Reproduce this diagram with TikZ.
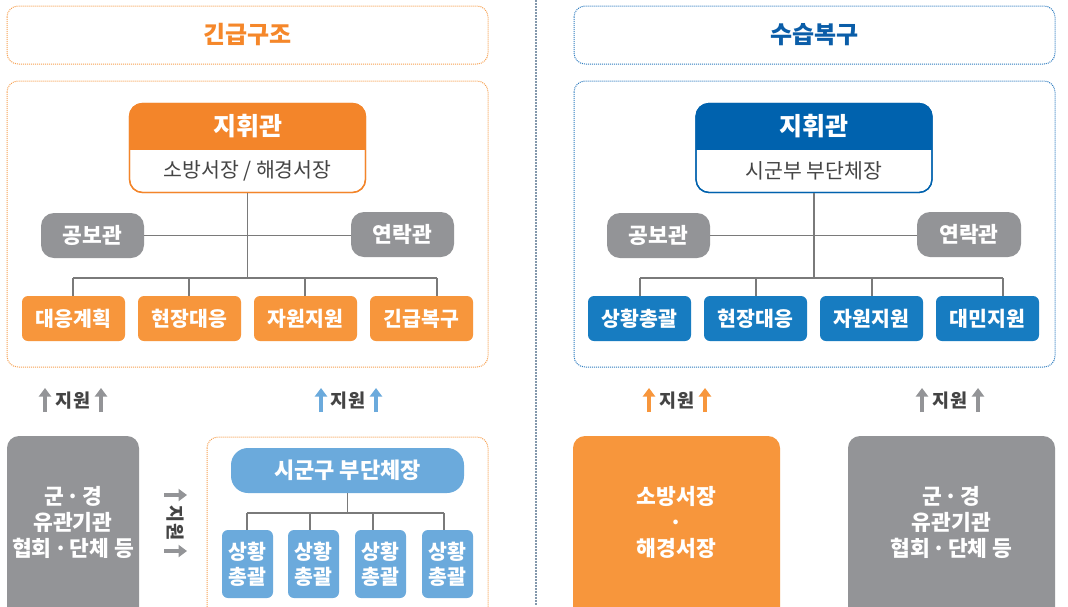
\documentclass[tikz,border=0pt]{standalone}
\usepackage{fontspec}
\setmainfont{Noto Sans CJK KR}
\usetikzlibrary{arrows.meta}
\definecolor{orT}{HTML}{F5872A}
\definecolor{orH}{HTML}{F3852A}
\definecolor{orB}{HTML}{F7963C}
\definecolor{orD}{HTML}{F7A050}
\definecolor{blT}{HTML}{0A5DA8}
\definecolor{blH}{HTML}{0062AE}
\definecolor{blB}{HTML}{177CC1}
\definecolor{blL}{HTML}{6BAADC}
\definecolor{blD}{HTML}{2E7CC0}
\definecolor{grB}{HTML}{939497}
\definecolor{lnC}{HTML}{7A7A7A}
\definecolor{txD}{HTML}{444444}
\definecolor{dvC}{HTML}{8398AC}
\newcommand{\mdot}{\kern2.5pt·\kern2.5pt}
\tikzset{
  dotbox/.style={line width=1pt, dash pattern=on 1pt off 1pt, rounded corners=11pt},
  sidebox/.style={fill=grB, rounded corners=13pt, minimum width=103pt, minimum height=45pt, text=white, font=\fontsize{21.5}{24}\selectfont\bfseries, inner sep=0pt},
  rowbox/.style={rounded corners=6pt, minimum width=103pt, minimum height=45pt, text=white, font=\fontsize{20.5}{24}\selectfont\bfseries, inner sep=0pt},
  smallbox/.style={fill=blL, rounded corners=6pt, minimum width=51pt, minimum height=68pt, text=white, align=center, font=\fontsize{20.5}{25}\selectfont\bfseries, inner sep=0pt},
  bigbox/.style={rounded corners=12pt, minimum width=#1, minimum height=184pt, inner sep=0pt},
  conn/.style={draw=lnC, line width=1.1pt},
  suparrow/.style={line width=4.6pt, -{Triangle[width=12pt,length=8.5pt]}},
  suplabel/.style={text=txD, font=\fontsize{18.5}{20}\selectfont\bfseries, inner sep=0pt},
  bigtext/.style={text=white, align=center, font=\fontsize{21.5}{26}\selectfont\bfseries, inner sep=0pt},
  titletext/.style={font=\fontsize{24}{28}\selectfont\bfseries},
  headtext/.style={text=white, font=\fontsize{25}{28}\selectfont\bfseries},
  subtext/.style={text=txD, font=\fontsize{20.5}{24}\selectfont},
}
\begin{document}
\begin{tikzpicture}[x=1pt,y=-1pt]
\useasboundingbox (0,0) rectangle (1068,606);
\clip (0,0) rectangle (1068,606);
\fill[white] (0,0) rectangle (1068,606);

% divider
\coordinate (dvT) at (536,0);
\coordinate (dvB) at (536,606);
\draw[dvC, line width=1.6pt, dash pattern=on 1.5pt off 1.5pt] (dvT) -- (dvB);

% ================= LEFT: 긴급구조 =================
\draw[orD, dotbox] (7,6) rectangle (488,64);
\node[titletext, text=orT] (titleL) at (247.5,35) {긴급구조};
\draw[orD, dotbox] (7,81) rectangle (488,367);

% command box
\node[draw=orH, line width=1.3pt, fill=white, rounded corners=13pt, minimum width=236pt, minimum height=89pt, inner sep=0pt] (cmdL) at (247.5,148) {};
\begin{scope}
\clip (129,103) rectangle (366,149);
\fill[orH, rounded corners=13pt] (129.5,103.5) rectangle (365.5,192.5);
\end{scope}
\draw[orH, line width=1.3pt, rounded corners=13pt] (129.5,103.5) rectangle (365.5,192.5);
\node[headtext] (cmdLh) at (247.5,126) {지휘관};
\node[subtext] (cmdLs) at (247.5,171) {소방서장 / 해경서장};

\node[sidebox] (pubL) at (92.5,235.5) {공보관};
\node[sidebox] (liaL) at (402.5,234.5) {연락관};

\node[rowbox, fill=orB] (rL1) at (73.5,318.5) {대응계획};
\node[rowbox, fill=orB] (rL2) at (189.5,318.5) {현장대응};
\node[rowbox, fill=orB] (rL3) at (305.5,318.5) {자원지원};
\node[rowbox, fill=orB] (rL4) at (421.5,318.5) {긴급복구};

\coordinate (jL) at (247.5,278);
\coordinate (bL1) at (73,278);
\coordinate (bL2) at (189,278);
\coordinate (bL3) at (305,278);
\coordinate (bL4) at (437,278);
\draw[conn] (cmdL.south) -- (jL);
\draw[conn] (pubL.east) -- (liaL.west |- pubL.east);
\draw[conn] (bL1) -- (bL4);
\draw[conn] (bL1) -- (bL1 |- rL1.north);
\draw[conn] (bL2) -- (bL2 |- rL2.north);
\draw[conn] (bL3) -- (bL3 |- rL3.north);
\draw[conn] (bL4) -- (bL4 |- rL4.north);

% support labels left
\coordinate (aL1s) at (45,412); \coordinate (aL1e) at (45,388);
\coordinate (aL2s) at (101,412); \coordinate (aL2e) at (101,388);
\draw[grB, suparrow] (aL1s) -- (aL1e);
\draw[grB, suparrow] (aL2s) -- (aL2e);
\node[suplabel] (sL1) at (73,401) {지원};
\coordinate (aL3s) at (321,412); \coordinate (aL3e) at (321,388);
\coordinate (aL4s) at (376,412); \coordinate (aL4e) at (376,388);
\draw[blL, suparrow] (aL3s) -- (aL3e);
\draw[blL, suparrow] (aL4s) -- (aL4e);
\node[suplabel] (sL2) at (348,401) {지원};

% bottom left gray box
\node[bigbox=132pt, fill=grB] (gL) at (73,528) {};
\node[bigtext] (gLt) at (73,522) {군\mdot 경\\유관기관\\협회\mdot 단체 등};

% side arrows
\coordinate (hA1s) at (164,495); \coordinate (hA1e) at (187,495);
\coordinate (hA2s) at (164,551); \coordinate (hA2e) at (187,551);
\draw[grB, suparrow] (hA1s) -- (hA1e);
\draw[grB, suparrow] (hA2s) -- (hA2e);
\node[suplabel, rotate=-90] (sV) at (175,523) {지원};

% orange dotted box with 시군구
\draw[orD, dotbox] (207,437) rectangle (488,640);
\node[fill=blL, rounded corners=17pt, minimum width=233pt, minimum height=45pt, text=white, font=\fontsize{22}{24}\selectfont\bfseries, inner sep=0pt] (sgg) at (347.5,470.5) {시군구 부단체장};
\node[smallbox] (s1) at (247.5,564) {상황\\총괄};
\node[smallbox] (s2) at (313.5,564) {상황\\총괄};
\node[smallbox] (s3) at (380.5,564) {상황\\총괄};
\node[smallbox] (s4) at (447.5,564) {상황\\총괄};
\coordinate (jS) at (347.5,513);
\coordinate (bS1) at (247,513);
\coordinate (bS2) at (310,513);
\coordinate (bS3) at (373,513);
\coordinate (bS4) at (444,513);
\draw[conn] (sgg.south) -- (jS);
\draw[conn] (bS1) -- (bS4);
\draw[conn] (bS1) -- (bS1 |- s1.north);
\draw[conn] (bS2) -- (bS2 |- s2.north);
\draw[conn] (bS3) -- (bS3 |- s3.north);
\draw[conn] (bS4) -- (bS4 |- s4.north);

% ================= RIGHT: 수습복구 =================
\draw[blD, dotbox] (574,6) rectangle (1055,64);
\node[titletext, text=blT] (titleR) at (814.5,35) {수습복구};
\draw[blD, dotbox] (574,81) rectangle (1055,367);

\node[draw=blH, line width=1.3pt, fill=white, rounded corners=13pt, minimum width=236pt, minimum height=89pt, inner sep=0pt] (cmdR) at (814,148) {};
\begin{scope}
\clip (695,103) rectangle (933,149);
\fill[blH, rounded corners=13pt] (696,103.5) rectangle (932,192.5);
\end{scope}
\draw[blH, line width=1.3pt, rounded corners=13pt] (696,103.5) rectangle (932,192.5);
\node[headtext] (cmdRh) at (814,126) {지휘관};
\node[subtext] (cmdRs) at (814,171) {시군부 부단체장};

\node[sidebox] (pubR) at (658.5,235.5) {공보관};
\node[sidebox, minimum width=104pt] (liaR) at (969,234.5) {연락관};

\node[rowbox, fill=blB] (rR1) at (639.5,318.5) {상황총괄};
\node[rowbox, fill=blB] (rR2) at (755.5,318.5) {현장대응};
\node[rowbox, fill=blB] (rR3) at (871.5,318.5) {자원지원};
\node[rowbox, fill=blB] (rR4) at (987.5,318.5) {대민지원};

\coordinate (jR) at (814,278);
\coordinate (bR1) at (640,278);
\coordinate (bR2) at (756,278);
\coordinate (bR3) at (872,278);
\coordinate (bR4) at (1003,278);
\draw[conn] (cmdR.south) -- (jR);
\draw[conn] (pubR.east) -- (liaR.west |- pubR.east);
\draw[conn] (bR1) -- (bR4);
\draw[conn] (bR1) -- (bR1 |- rR1.north);
\draw[conn] (bR2) -- (bR2 |- rR2.north);
\draw[conn] (bR3) -- (bR3 |- rR3.north);
\draw[conn] (bR4) -- (bR4 |- rR4.north);

% support labels right
\coordinate (aR1s) at (649,412); \coordinate (aR1e) at (649,388);
\coordinate (aR2s) at (705,412); \coordinate (aR2e) at (705,388);
\draw[orB, suparrow] (aR1s) -- (aR1e);
\draw[orB, suparrow] (aR2s) -- (aR2e);
\node[suplabel] (sR1) at (677,401) {지원};
\coordinate (aR3s) at (922,412); \coordinate (aR3e) at (922,388);
\coordinate (aR4s) at (978,412); \coordinate (aR4e) at (978,388);
\draw[grB, suparrow] (aR3s) -- (aR3e);
\draw[grB, suparrow] (aR4s) -- (aR4e);
\node[suplabel] (sR2) at (950,401) {지원};

\node[bigbox=207pt, fill=orB] (oR) at (676.5,528) {};
\node[bigtext] (oRt) at (676.5,522) {소방서장\\·\\해경서장};
\node[bigbox=207pt, fill=grB] (gR) at (951.5,528) {};
\node[bigtext] (gRt) at (951.5,522) {군\mdot 경\\유관기관\\협회\mdot 단체 등};
\end{tikzpicture}
\end{document}
